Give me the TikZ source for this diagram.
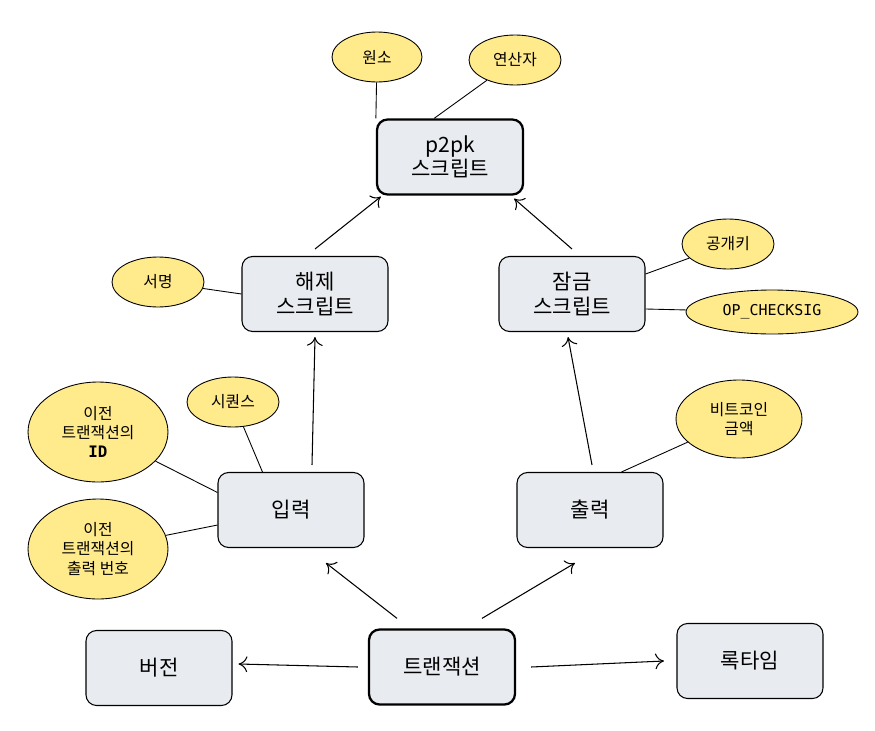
\documentclass[tikz,border=0pt]{standalone}
\usepackage{fontspec}
\setmainfont{Noto Sans CJK KR}
\newfontfamily\monofont{DejaVu Sans Mono}
\usetikzlibrary{shapes.geometric,arrows.meta}
\definecolor{boxgray}{RGB}{232, 235, 239}
\definecolor{noteyellow}{RGB}{255, 234, 140}

\tikzset{
  blk/.style={draw=black, fill=boxgray, rounded corners=6pt, minimum width=2.92cm,
    minimum height=1.5cm, align=center, font=\fontsize{12}{14}\selectfont, line width=0.6pt},
  mainblk/.style={blk, line width=1.3pt},
  note/.style={draw=black, fill=noteyellow, ellipse, inner sep=0pt, align=center,
    font=\fontsize{9}{11}\selectfont, line width=0.5pt},
  link/.style={draw=black, line width=0.5pt},
  flow/.style={draw=black, line width=0.6pt, -{To[length=5pt,width=9pt]}}
}

\begin{document}
\begin{tikzpicture}[x=0.02cm, y=-0.02cm]
  \useasboundingbox (0,0) rectangle (875,730);

  % boxes
  \node[mainblk] (p2pk) at (450,157) {p2pk\\스크립트};
  \node[blk] (unlock) at (315,294) {해제\\스크립트};
  \node[blk] (lock) at (572,294) {잠금\\스크립트};
  \node[blk] (input) at (291,510) {입력};
  \node[blk] (output) at (590,510) {출력};
  \node[mainblk] (tx) at (442,667) {트랜잭션};
  \node[blk] (version) at (159,668) {버전};
  \node[blk] (locktime) at (750,661) {록타임};

  % notes
  \node[note, minimum width=1.8cm, minimum height=1cm] (elem) at (377,57) {원소};
  \node[note, minimum width=1.84cm, minimum height=1cm] (oper) at (515,60) {연산자};
  \node[note, minimum width=1.84cm, minimum height=1cm] (sig) at (158,282) {서명};
  \node[note, minimum width=1.84cm, minimum height=1cm] (pubkey) at (728,244) {공개키};
  \node[note, minimum width=3.44cm, minimum height=0.88cm, font=\monofont\fontsize{8.5}{10}\selectfont] (checksig) at (772,312) {OP\_CHECKSIG};
  \node[note, minimum width=1.84cm, minimum height=1cm] (seq) at (233,402) {시퀀스};
  \node[note, minimum width=2.8cm, minimum height=2cm] (previd) at (98,432) {이전\\트랜잭션의\\{\monofont\bfseries ID}};
  \node[note, minimum width=2.8cm, minimum height=2cm] (prevout) at (98,549) {이전\\트랜잭션의\\출력 번호};
  \node[note, minimum width=2.52cm, minimum height=1.56cm] (amount) at (739,419) {비트코인\\금액};

  % note links
  \draw[link] (elem) -- (p2pk.north west);
  \draw[link] (oper) -- ([xshift=-1.8cm]p2pk.north east);
  \draw[link] (sig) -- (unlock.west);
  \draw[link] (pubkey) -- ([yshift=0.4cm]lock.east);
  \draw[link] (checksig) -- ([yshift=-0.3cm]lock.east);
  \draw[link] (seq) -- ([xshift=0.9cm]input.north west);
  \draw[link] (previd) -- ([yshift=0.35cm]input.west);
  \draw[link] (prevout) -- ([yshift=-0.3cm]input.west);
  \draw[link] (amount) -- ([xshift=2.1cm]output.north west);

  % flows
  \draw[flow] ([xshift=-0.9cm,yshift=0.2cm]tx.north) -- ([xshift=0.7cm,yshift=-0.3cm]input.south);
  \draw[flow] ([xshift=0.8cm,yshift=0.2cm]tx.north) -- ([xshift=-0.3cm,yshift=-0.3cm]output.south);
  \draw[flow] ([xshift=-0.2cm]tx.west) -- ([xshift=0.12cm,yshift=0.08cm]version.east);
  \draw[flow] ([xshift=0.3cm]tx.east) -- ([xshift=-0.25cm]locktime.west);
  \draw[flow] ([xshift=0.42cm,yshift=0.14cm]input.north) -- ([yshift=-0.1cm]unlock.south);
  \draw[flow] ([xshift=0.04cm,yshift=0.14cm]output.north) -- ([xshift=-0.08cm,yshift=-0.1cm]lock.south);
  \draw[flow] ([yshift=0.14cm]unlock.north) -- ([xshift=0.1cm,yshift=-0.02cm]p2pk.south west);
  \draw[flow] ([yshift=0.14cm]lock.north) -- ([xshift=-0.2cm,yshift=-0.06cm]p2pk.south east);
\end{tikzpicture}
\end{document}
